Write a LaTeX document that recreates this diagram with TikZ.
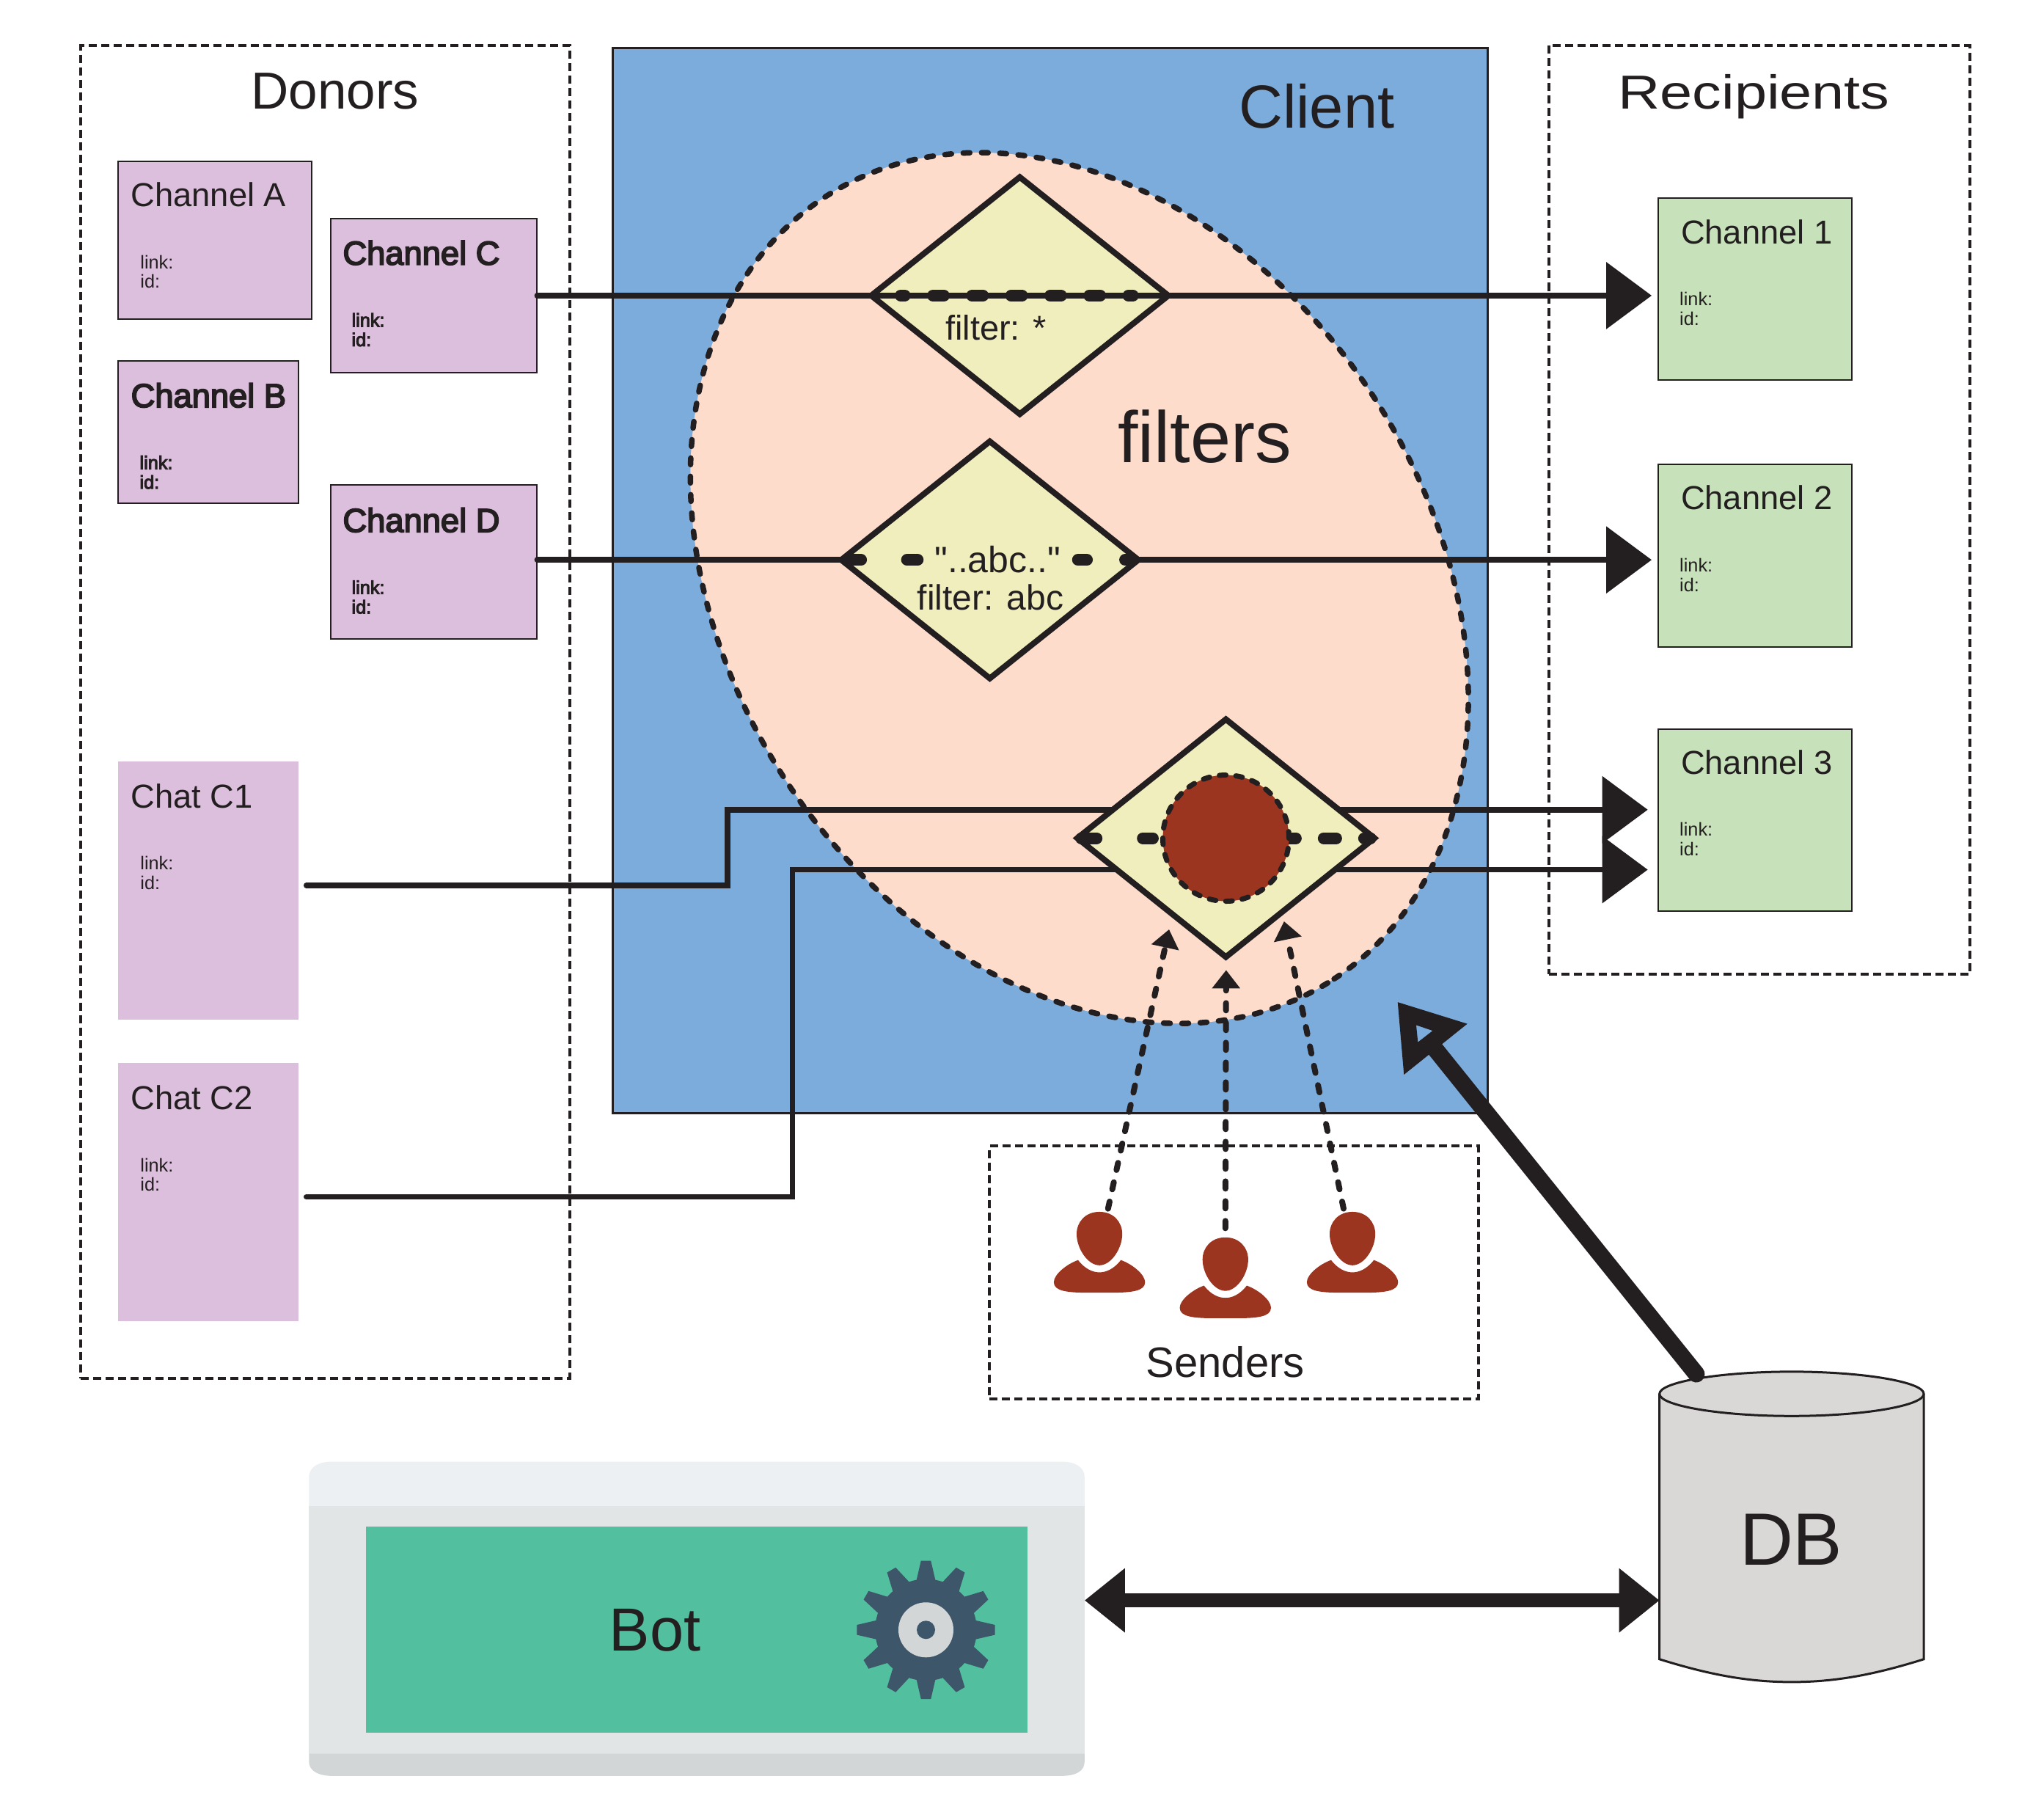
\documentclass[tikz,border=0pt]{standalone}
\usepackage{fontspec}
\usepackage{graphicx}
\setmainfont{Liberation Sans}
\newfontface\fbold{Liberation Sans}[FakeBold=4]
\newfontface\plainf{Liberation Sans}
\usetikzlibrary{fit,calc,arrows.meta,shapes.geometric}
\definecolor{ink}{HTML}{231F20}
\definecolor{clientblue}{HTML}{7BACDC}
\definecolor{peach}{HTML}{FDDCCB}
\definecolor{cream}{HTML}{F1EEBE}
\definecolor{purp}{HTML}{DCBFDC}
\definecolor{grn}{HTML}{C7E2BA}
\definecolor{rust}{HTML}{9B3520}
\definecolor{dbgray}{HTML}{D9D8D7}
\definecolor{bottop}{HTML}{ECF0F3}
\definecolor{botmid}{HTML}{E2E5E6}
\definecolor{botlow}{HTML}{D2D6D7}
\definecolor{botgreen}{HTML}{52BF9F}
\definecolor{gearc}{HTML}{3E566A}
\newcommand{\fs}[1]{\fontsize{#1}{#1}\selectfont}
\tikzset{
  box/.style={rectangle,inner sep=0pt,outer sep=0pt},
  dashbox/.style={box,draw=ink,line width=4pt,dash pattern=on 11pt off 6pt},
  chanp/.style={box,fill=purp,draw=ink,line width=2pt},
  chatp/.style={box,fill=purp},
  chang/.style={box,fill=grn,draw=ink,line width=2pt},
  txt/.style={inner sep=0pt,outer sep=0pt,text=ink,anchor=base},
  txtl/.style={inner sep=0pt,outer sep=0pt,text=ink,anchor=base west},
  filt/.style={diamond,fill=cream,draw=ink,line width=8pt,inner sep=0pt,outer sep=0pt,
     minimum width=405pt,minimum height=323pt,miter limit=10},
  wire/.style={draw=ink,line width=7.5pt,line cap=round},
  wirearrow/.style={draw=ink,line width=7.5pt,-{Triangle[length=62pt,width=90pt]}},
  thickdash/.style={draw=ink,line width=16pt,line cap=round},
  sendarrow/.style={draw=ink,line width=8pt,line cap=round,dash pattern=on 10pt off 17pt,
     -{Triangle[length=25pt,width=37pt]}},
  person/.pic={
    \fill[rust] (0,0) .. controls (11,0) and (17.5,8) .. (17.5,17)
      .. controls (17.5,28) and (9,41) .. (0,41)
      .. controls (-9,41) and (-17.5,28) .. (-17.5,17)
      .. controls (-17.5,8) and (-11,0) .. (0,0) -- cycle;
    \fill[rust] (-16.4,37) .. controls (-25,40) and (-35,48) .. (-35,54)
      .. controls (-35,61) and (-24,62) .. (-8,62) -- (8,62)
      .. controls (24,62) and (35,61) .. (35,54)
      .. controls (35,48) and (25,40) .. (16.4,37)
      .. controls (11,44) and (5,46.4) .. (0,46.4)
      .. controls (-5,46.4) and (-11,44) .. (-16.4,37) -- cycle;
  }
}
\newcommand{\chlabels}[6]{% name, title, x-title, base, x-small, font switch
  \node[txtl] (#1t) at (#3,#4) {\fs{45.3}#6{}#2};
  \node[txtl] (#1l) at (#5,#4+47.5) {\fs{25.3}#6{}link:};
  \node[txtl] (#1i) at (#5,#4+62.5) {\fs{25.3}#6{}id:};
}
\begin{document}
\begin{tikzpicture}[x=1.7774pt,y=-1.7774pt]
\useasboundingbox (0,0) rectangle (1568,1386.9);
\fill[white] (0,0) rectangle (1568,1386.9);

% group boxes
\node[dashbox,fit={(62,35)(437,1057)}] (donors) {};
\node[dashbox,fit={(1188,35)(1511,747)}] (recipients) {};
\node[dashbox,fit={(759,879)(1134,1073)}] (senders) {};
\node[box,fill=clientblue,draw=ink,line width=3pt,fit={(470,37)(1141,854)}] (client) {};
\node[ellipse,fill=peach,draw=ink,line width=7.5pt,line cap=round,dash pattern=on 9pt off 16pt,
  inner sep=0pt,outer sep=0pt,minimum width=1272pt,minimum height=957pt,rotate=-56.9] (filterzone) at (828,451) {};

\node[txt] (donorsT) at (257,83.5) {\fs{71}Donors};
\node[txt] (recipT) at (1345.5,83.4) {\scalebox{1.22}[1]{\fs{65}Recipients}};
\node[txt] (clientT) at (1010,98) {\fs{83}Client};
\node[txt] (filtersT) at (924,355) {\fs{99}filters};
\node[txt] (sendersT) at (940,1056.5) {\fs{58}Senders};

% donor channels
\node[chanp,fit={(90.5,123.5)(239,245)}] (chA) {};
\node[chanp,fit={(253.5,167.5)(412,286)}] (chC) {};
\node[chanp,fit={(90.5,277)(229,386)}] (chB) {};
\node[chanp,fit={(253.5,372)(412,490)}] (chD) {};
\node[chatp,fit={(90.5,584)(229,782)}] (chatA) {};
\node[chatp,fit={(90.5,815)(229,1013)}] (chatB) {};
\node[chang,fit={(1272,152)(1420.5,291.5)}] (ch1) {};
\node[chang,fit={(1272,356)(1420.5,496)}] (ch2) {};
\node[chang,fit={(1272,559)(1420.5,698.5)}] (ch3) {};

\chlabels{A}{Channel A}{100.5}{158.5}{107.7}{}
\chlabels{C}{Channel C}{263}{203}{269.8}{\fbold}
\chlabels{B}{Channel B}{100.5}{312.3}{107.2}{\fbold}
\chlabels{D}{Channel D}{263}{408}{269.8}{\fbold}
\chlabels{E}{Chat C1}{100.5}{619.5}{107.7}{}
\chlabels{F}{Chat C2}{100.5}{851}{107.7}{}
\chlabels{G}{Channel 1}{1289.5}{187}{1288.5}{}
\chlabels{H}{Channel 2}{1289.5}{391}{1288.5}{}
\chlabels{I}{Channel 3}{1289.5}{593.6}{1288.5}{}

% coordinates of connector ends
\coordinate (a1) at (1267,226.7);
\coordinate (a2) at (1267,429.4);
\coordinate (a3) at (1264,621);
\coordinate (a4) at (1264,667);
\coordinate (c1s) at (235,679);
\coordinate (c2s) at (235,918);
\coordinate (k1) at (558,679);
\coordinate (k2) at (558,621);
\coordinate (k3) at (608,918);
\coordinate (k4) at (608,667);

% wires behind diamonds
\draw[wirearrow,line cap=round] (c1s) -- (k1) -- (k2) -- (a3);
\draw[wirearrow,line cap=round] (c2s) -- (k3) -- (k4) -- (a4);

% filter diamonds
\node[filt] (d1) at (782.3,226.7) {};
\node[filt] (d2) at (759.3,429.4) {};
\node[filt,minimum width=405pt,minimum height=324pt] (d3) at (940.4,642.8) {};

\draw[wire] (chC.east|-d1.west) -- (d1.west);
\draw[wirearrow] (d1.east) -- (a1);
\draw[draw=ink,line width=7.5pt] (d1.west) -- (d1.east);
\draw[wire] (chD.east|-d2.west) -- (d2.west);
\draw[wirearrow] (d2.east) -- (a2);

% thick dashes inside diamonds
\draw[thickdash,dash pattern=on 15pt off 38.3pt,dash phase=9.3pt]
   ($(d1.center)+(-91.4,0)$) -- ($(d1.center)+(86.8,0)$);
\draw[thickdash,dash pattern=on 20pt off 62.6pt on 15pt off 1000pt]
   ($(d2.center)+(-110,0)$) -- ($(d2.center)+(-55.3,0)$);
\draw[thickdash,dash pattern=on 12.3pt off 52pt on 30pt off 1000pt]
   ($(d2.center)+(67.6,0)$) -- ($(d2.center)+(110,0)$);
\draw[thickdash,dash pattern=on 21pt off 63pt on 14pt off 1000pt]
   ($(d3.center)+(-111,0)$) -- ($(d3.center)+(-56,0)$);
\draw[thickdash,dash pattern=on 17pt off 38pt,dash phase=8pt]
   ($(d3.center)+(48.6,0)$) -- ($(d3.center)+(111,0)$);

\node[circle,fill=rust,draw=ink,line width=7pt,line cap=round,dash pattern=on 9pt off 13.5pt,
   inner sep=0pt,outer sep=0pt,minimum size=172pt] (hub) at (d3.center) {};

\node[txt] (f1) at (764,260.7) {\fs{47}filter: *};
\node[txt] (f2q) at (765.3,439.2) {\plainf\fs{50}"..abc.."};
\node[txt] (f2) at (759.8,468) {\fs{48}filter: abc};

% senders
\coordinate (p1) at (843.4,929.4);
\coordinate (p2) at (940,949);
\coordinate (p3) at (1037.5,929.4);
\pic at (p1) {person};
\pic at (p2) {person};
\pic at (p3) {person};
\coordinate (s1) at (850,927);
\coordinate (s2) at (940,942);
\coordinate (s3) at (1030.7,927);
\coordinate (t1) at (896.8,712.8);
\coordinate (t2) at (940.6,744);
\coordinate (t3) at (985,706.6);
\draw[sendarrow] (s1) -- (t1);
\draw[sendarrow] (s2) -- (t2);
\draw[sendarrow] (s3) -- (t3);

% bot
\fill[bottop] (237,1155) -- (237,1133) .. controls (237,1126) and (243,1121) .. (255,1121)
  -- (814,1121) .. controls (826,1121) and (832,1126) .. (832,1133) -- (832,1155) -- cycle;
\node[box,fill=botmid,fit={(237,1155)(832,1345)}] (botbody) {};
\fill[botlow] (237,1345) -- (237,1351) .. controls (237,1358) and (244,1362) .. (255,1362)
  -- (814,1362) .. controls (826,1362) and (832,1358) .. (832,1351) -- (832,1345) -- cycle;
\node[box,fill=botgreen,fit={(281,1171)(788,1329)}] (botscreen) {};
\node[txt] (botT) at (502.5,1266.4) {\fs{83}Bot};
\coordinate (gear) at (710.3,1250);
\node[circle,fill=gearc,inner sep=0pt,outer sep=0pt,minimum size=138.6pt] (gearbody) at (gear) {};
\foreach \a in {0,30,...,330}{
  \begin{scope}[shift={(gear)},rotate=\a]
    \fill[gearc] (-7.5,-37) -- (-3.8,-53) -- (3.8,-53) -- (7.5,-37) -- cycle;
  \end{scope}
}
\node[circle,fill=botlow,inner sep=0pt,outer sep=0pt,minimum size=75pt] (gearhub) at (gear) {};
\node[circle,fill=gearc,inner sep=0pt,outer sep=0pt,minimum size=25pt] (gearpin) at (gear) {};

% DB
\coordinate (dbl) at (1273,1069);
\coordinate (dbr) at (1475.8,1069);
\filldraw[fill=dbgray,draw=ink,line width=3pt]
  (dbl) -- (1273,1272.5) .. controls (1310,1284) and (1340,1290) .. (1374.4,1290)
  .. controls (1409,1290) and (1439,1284) .. (1475.8,1272.5) -- (dbr)
  .. controls (1475.8,1060) and (1430,1052) .. (1374.4,1052)
  .. controls (1319,1052) and (1273,1060) .. (dbl) -- cycle;
\draw[ink,line width=3pt] (dbl) .. controls (1273,1078) and (1319,1086) .. (1374.4,1086)
  .. controls (1430,1086) and (1475.8,1078) .. (dbr);
\node[txt] (dbT) at (1374,1200.5) {\fs{101}DB};

% big arrows
\coordinate (bigS) at (1301.3,1053.8);
\coordinate (bigE) at (1101,804.6);
\draw[ink,line width=23pt,line cap=round] (bigS) -- (bigE);
\fill[ink,even odd rule] (1072.2,768.6) -- (1125.6,785.2) -- (1077,824.2) -- cycle
  (1086.4,786.2) -- (1099,790.5) -- (1087.7,799.3) -- cycle;
\coordinate (bb1) at (832,1227.4);
\coordinate (bb2) at (1273,1227.4);
\draw[ink,line width=19pt,{Triangle[length=55pt,width=84pt]}-{Triangle[length=55pt,width=84pt]}] (bb1) -- (bb2);
\end{tikzpicture}
\end{document}
